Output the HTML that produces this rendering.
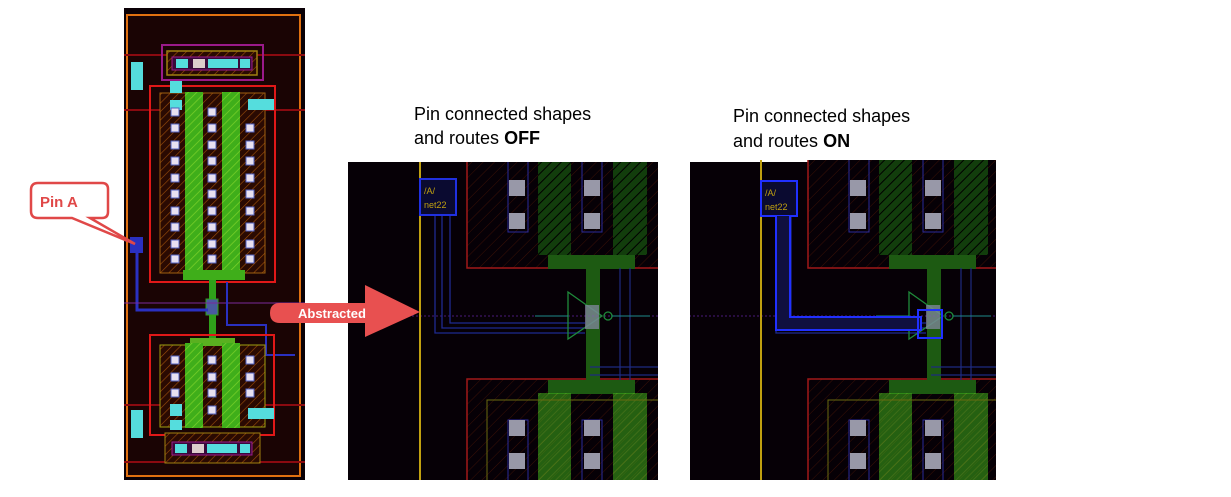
<!DOCTYPE html>
<html><head><meta charset="utf-8"><style>
html,body{margin:0;padding:0;background:#fff;width:1231px;height:497px;overflow:hidden}
svg{display:block}
text{font-family:"Liberation Sans",sans-serif}
</style></head><body>
<svg width="1231" height="497" viewBox="0 0 1231 497" xmlns="http://www.w3.org/2000/svg">
<defs>
<pattern id="ho" width="6" height="6" patternUnits="userSpaceOnUse" patternTransform="rotate(45)"><rect width="6" height="6" fill="#2a0a02"/><line x1="0" y1="0" x2="0" y2="6" stroke="#a0500a" stroke-width="1.2"/></pattern>
<pattern id="hg" width="6" height="6" patternUnits="userSpaceOnUse" patternTransform="rotate(45)"><rect width="6" height="6" fill="#3fae1a"/><line x1="0" y1="0" x2="0" y2="6" stroke="#7ad02a" stroke-width="1.5"/></pattern>
<pattern id="hd" width="7" height="7" patternUnits="userSpaceOnUse" patternTransform="rotate(45)"><rect width="7" height="7" fill="#123d0c"/><line x1="0" y1="0" x2="0" y2="7" stroke="#000" stroke-width="2"/></pattern>
<pattern id="hr" width="8" height="8" patternUnits="userSpaceOnUse" patternTransform="rotate(45)"><rect width="8" height="8" fill="#060006"/><line x1="0" y1="0" x2="0" y2="8" stroke="#3a1005" stroke-width="1"/></pattern>
</defs>

<!-- LEFT PANEL -->
<rect x="124" y="8" width="181" height="472" fill="#0a0006"/>
<rect x="127" y="15" width="173" height="461" fill="#1a0404" stroke="#e07010" stroke-width="2"/>
<line x1="124" y1="55" x2="305" y2="55" stroke="#8a0a10" stroke-width="2"/>
<line x1="124" y1="110" x2="305" y2="110" stroke="#8a0a10" stroke-width="2"/>
<line x1="124" y1="405" x2="305" y2="405" stroke="#8a0a10" stroke-width="2"/>
<line x1="124" y1="462" x2="305" y2="462" stroke="#8a0a10" stroke-width="2"/>
<rect x="162" y="45" width="101" height="35" fill="none" stroke="#9a1a8a" stroke-width="2"/>
<rect x="167" y="51" width="90" height="24" fill="url(#ho)" stroke="#a08010" stroke-width="1.5"/>
<rect x="172" y="57" width="80" height="13" fill="#3a0a3a" stroke="#9a1a8a"/>
<rect x="176" y="59" width="12" height="9" fill="#5dd"/><rect x="193" y="59" width="12" height="9" fill="#dcc"/><rect x="208" y="59" width="30" height="9" fill="#5dd"/><rect x="240" y="59" width="10" height="9" fill="#5dd"/>
<rect x="131" y="62" width="12" height="28" fill="#5dd"/>
<!-- upper transistor -->
<rect x="150" y="86" width="125" height="196" fill="none" stroke="#e01818" stroke-width="2"/>
<rect x="160" y="93" width="105" height="180" fill="url(#ho)" stroke="#a06010"/>
<rect x="185" y="92" width="18" height="183" fill="url(#hg)"/>
<rect x="222" y="92" width="18" height="183" fill="url(#hg)"/>
<rect x="183" y="270" width="62" height="10" fill="#3fae1a"/>
<rect x="170" y="81" width="12" height="12" fill="#5dd"/><rect x="170" y="100" width="12" height="10" fill="#5dd"/>
<rect x="248" y="99" width="26" height="11" fill="#5dd"/>
<g fill="#e8e0f0" stroke="#5060c0">
<rect x="171" y="108" width="8" height="8"/><rect x="171" y="124" width="8" height="8"/><rect x="171" y="141" width="8" height="8"/><rect x="171" y="157" width="8" height="8"/><rect x="171" y="174" width="8" height="8"/><rect x="171" y="190" width="8" height="8"/><rect x="171" y="207" width="8" height="8"/><rect x="171" y="223" width="8" height="8"/><rect x="171" y="240" width="8" height="8"/><rect x="171" y="255" width="8" height="8"/>
<rect x="208" y="108" width="8" height="8"/><rect x="208" y="124" width="8" height="8"/><rect x="208" y="141" width="8" height="8"/><rect x="208" y="157" width="8" height="8"/><rect x="208" y="174" width="8" height="8"/><rect x="208" y="190" width="8" height="8"/><rect x="208" y="207" width="8" height="8"/><rect x="208" y="223" width="8" height="8"/><rect x="208" y="240" width="8" height="8"/><rect x="208" y="255" width="8" height="8"/>
<rect x="246" y="124" width="8" height="8"/><rect x="246" y="141" width="8" height="8"/><rect x="246" y="157" width="8" height="8"/><rect x="246" y="174" width="8" height="8"/><rect x="246" y="190" width="8" height="8"/><rect x="246" y="207" width="8" height="8"/><rect x="246" y="223" width="8" height="8"/><rect x="246" y="240" width="8" height="8"/><rect x="246" y="255" width="8" height="8"/>
</g>
<!-- middle gate & routes -->
<rect x="209" y="280" width="7" height="58" fill="#2fa01a"/>
<rect x="206" y="299" width="12" height="16" fill="#4a5aa0" stroke="#2fa01a"/>
<path d="M137 250 V310 H208" fill="none" stroke="#2a30c0" stroke-width="3"/>
<line x1="124" y1="303" x2="305" y2="303" stroke="#7a2a9a" stroke-width="1"/>
<path d="M227 282 V325 H266 V355 H295" fill="none" stroke="#2a30c0" stroke-width="2"/>
<rect x="130" y="237" width="13" height="16" fill="#2a30c0"/>
<!-- lower transistor -->
<rect x="150" y="335" width="124" height="100" fill="none" stroke="#e01818" stroke-width="2"/>
<rect x="160" y="345" width="105" height="82" fill="url(#ho)" stroke="#a0a010"/>
<rect x="190" y="338" width="45" height="8" fill="#5ab020"/>
<rect x="185" y="343" width="18" height="85" fill="url(#hg)"/>
<rect x="222" y="343" width="18" height="85" fill="url(#hg)"/>
<g fill="#e8e0f0" stroke="#5060c0">
<rect x="171" y="356" width="8" height="8"/><rect x="171" y="373" width="8" height="8"/><rect x="171" y="389" width="8" height="8"/>
<rect x="208" y="356" width="8" height="8"/><rect x="208" y="373" width="8" height="8"/><rect x="208" y="389" width="8" height="8"/><rect x="208" y="406" width="8" height="8"/>
<rect x="246" y="356" width="8" height="8"/><rect x="246" y="373" width="8" height="8"/><rect x="246" y="389" width="8" height="8"/>
</g>
<rect x="170" y="404" width="12" height="12" fill="#5dd"/><rect x="170" y="420" width="12" height="10" fill="#5dd"/>
<rect x="248" y="408" width="26" height="11" fill="#5dd"/>
<rect x="131" y="410" width="12" height="28" fill="#5dd"/>
<rect x="165" y="433" width="95" height="30" fill="url(#ho)" stroke="#a08010"/>
<rect x="172" y="442" width="80" height="13" fill="#3a0a3a" stroke="#9a1a8a"/>
<rect x="175" y="444" width="12" height="9" fill="#5dd"/><rect x="192" y="444" width="12" height="9" fill="#dcc"/><rect x="207" y="444" width="30" height="9" fill="#5dd"/><rect x="240" y="444" width="10" height="9" fill="#5dd"/>

<!-- Pin A callout -->
<path d="M38 183 H102 Q108 183 108 189 V212 Q108 218 102 218 H90 L135 244 L72 218 H38 Q31 218 31 211 V190 Q31 183 38 183 Z" fill="#fff" stroke="#e04848" stroke-width="2.5"/>
<text x="40" y="207" font-size="15" font-weight="bold" fill="#e04848">Pin A</text>

<!-- PANEL 2 -->
<svg x="348" y="162" width="310" height="318" viewBox="348 162 310 318">
<g id="pan">
<rect x="348" y="162" width="310" height="318" fill="#060006"/>
<rect x="467" y="150" width="200" height="118" fill="url(#hr)" stroke="#a01818" stroke-width="1.5"/>
<rect x="467" y="379" width="200" height="110" fill="url(#hr)" stroke="#a01818" stroke-width="1.5"/>
<rect x="508" y="150" width="20" height="82" fill="none" stroke="#2a2a9a"/>
<rect x="582" y="150" width="20" height="82" fill="none" stroke="#2a2a9a"/>
<rect x="538" y="150" width="33" height="105" fill="url(#hd)"/>
<rect x="613" y="150" width="34" height="105" fill="url(#hd)"/>
<rect x="548" y="255" width="87" height="14" fill="#1d5a12"/>
<rect x="586" y="268" width="14" height="112" fill="#1d5a12"/>
<rect x="548" y="380" width="87" height="14" fill="#1d5a12"/>
<rect x="538" y="393" width="33" height="100" fill="url(#hg)" opacity="0.55"/>
<rect x="613" y="393" width="34" height="100" fill="url(#hg)" opacity="0.55"/>
<rect x="487" y="400" width="180" height="90" fill="none" stroke="#6a6a10"/>
<rect x="508" y="420" width="20" height="70" fill="none" stroke="#2a2a9a"/>
<rect x="582" y="420" width="20" height="70" fill="none" stroke="#2a2a9a"/>
<g fill="#9898a8">
<rect x="509" y="180" width="16" height="16"/><rect x="509" y="213" width="16" height="16"/>
<rect x="584" y="180" width="16" height="16"/><rect x="584" y="213" width="16" height="16"/>
<rect x="509" y="420" width="16" height="16"/><rect x="509" y="453" width="16" height="16"/>
<rect x="584" y="420" width="16" height="16"/><rect x="584" y="453" width="16" height="16"/>
</g>
<path d="M620 268 V380 M630 268 V380 M590 367 H660 M590 375 H660" stroke="#1e2a80" stroke-width="1.2" fill="none"/>
<line x1="348" y1="316" x2="660" y2="316" stroke="#4a1a7a" stroke-width="1" stroke-dasharray="2 2"/>
<path d="M435 215 V333 H585 M442 215 V328 H585 M450 215 V323 H585" stroke="#1e2a90" stroke-width="1.3" fill="none"/>
<path d="M568 292 L602 316 L568 339 Z" fill="none" stroke="#1f8a3a" stroke-width="1.3"/>
<circle cx="608" cy="316" r="4" fill="none" stroke="#1f8a3a" stroke-width="1.3"/>
<line x1="535" y1="316" x2="568" y2="316" stroke="#1f8a8a"/><line x1="612" y1="316" x2="650" y2="316" stroke="#1f8a8a"/>
<rect x="585" y="305" width="14" height="24" fill="#8a8aa8" opacity="0.7"/>
<line x1="420" y1="150" x2="420" y2="490" stroke="#c0a010" stroke-width="2"/>
</g>
<rect x="420" y="179" width="36" height="36" fill="#0a0a30" stroke="#2030e0" stroke-width="2"/>
<text x="424" y="194" font-size="9" fill="#c0a010">/A/</text>
<text x="424" y="208" font-size="9" fill="#c0a010">net22</text>
</svg>

<!-- PANEL 3 -->
<svg x="690" y="160" width="306" height="320" viewBox="349 160 306 320">
<use href="#pan"/>
<rect x="420" y="181" width="36" height="35" fill="#0a0a30" stroke="#2030ff" stroke-width="2"/>
<text x="424" y="196" font-size="9" fill="#c0a010">/A/</text>
<text x="424" y="210" font-size="9" fill="#c0a010">net22</text>
<path d="M435 216 V330 H580 V317 H449 V216" fill="#101040" stroke="#2030ff" stroke-width="2"/>
<rect x="577" y="310" width="24" height="28" fill="none" stroke="#2030ff" stroke-width="2"/>
</svg>

<!-- Abstracted arrow -->
<path d="M280 303 H365 V285 L420 312 L365 337 V323 H280 Q270 323 270 313 Q270 303 280 303 Z" fill="#e85050"/>
<text x="298" y="318" font-size="13" font-weight="bold" fill="#fff">Abstracted</text>

<!-- captions -->
<text x="414" y="120" font-size="18" fill="#000">Pin connected shapes</text>
<text x="414" y="144" font-size="18" fill="#000">and routes <tspan font-weight="bold">OFF</tspan></text>
<text x="733" y="122" font-size="18" fill="#000">Pin connected shapes</text>
<text x="733" y="147" font-size="18" fill="#000">and routes <tspan font-weight="bold">ON</tspan></text>
</svg>
</body></html>
